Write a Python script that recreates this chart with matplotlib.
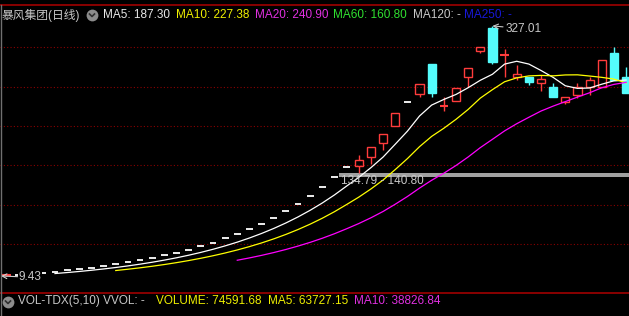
import matplotlib.pyplot as plt
import pandas as pd
from matplotlib.patches import Rectangle
from matplotlib.lines import Line2D

# daily candles (price)
opens = [9.43, 11.31, 12.44, 13.68, 15.05, 16.56, 18.21, 20.03, 22.04, 24.24,
         26.66, 29.33, 32.26, 35.49, 39.04, 42.94, 47.24, 51.96, 57.16, 62.87,
         69.16, 76.08, 83.68, 92.05, 101.26, 111.38, 122.52, 134.79, 148.25, 148.5,
         160.9, 178.0, 200.0, 230.8, 240.6, 278.7, 224.5, 231.5, 262.2, 295.0,
         324.4, 288.8, 262.2, 262.2, 254.5, 249.5, 230.4, 239.3, 249.5, 249.5,
         292.6, 262.2]
highs = [10.28, 11.31, 12.44, 13.68, 15.05, 16.56, 18.21, 20.03, 22.04, 24.24,
         26.66, 29.33, 32.26, 35.49, 39.04, 42.94, 47.24, 51.96, 57.16, 62.87,
         69.16, 76.08, 83.68, 92.05, 101.26, 111.38, 122.52, 134.79, 148.25, 163.1,
         172.9, 189.8, 216.4, 230.8, 253.3, 278.7, 237.2, 248.0, 273.6, 300.5,
         327.01, 297.7, 277.4, 262.2, 264.7, 254.5, 236.8, 254.9, 262.2, 283.7,
         300.3, 274.9]
lows = [9.43, 11.31, 12.44, 13.68, 15.05, 16.56, 18.21, 20.03, 22.04, 24.24,
        26.66, 29.33, 32.26, 35.49, 39.04, 42.94, 47.24, 51.96, 57.16, 62.87,
        69.16, 76.08, 83.68, 92.05, 101.26, 111.38, 122.52, 134.79, 148.25, 140.80,
        151.3, 169.5, 200.0, 230.8, 236.8, 236.4, 219.5, 231.5, 249.5, 292.6,
        279.0, 262.2, 258.3, 252.0, 244.4, 236.8, 227.9, 235.0, 239.3, 249.5,
        258.3, 241.8]
closes = [10.28, 11.31, 12.44, 13.68, 15.05, 16.56, 18.21, 20.03, 22.04, 24.24,
          26.66, 29.33, 32.26, 35.49, 39.04, 42.94, 47.24, 51.96, 57.16, 62.87,
          69.16, 76.08, 83.68, 92.05, 101.26, 111.38, 122.52, 134.79, 148.25, 156.6,
          172.9, 189.8, 216.4, 230.8, 253.3, 242.3, 225.5, 248.0, 273.6, 300.5,
          280.6, 290.0, 266.0, 255.8, 259.6, 236.8, 236.8, 249.5, 258.3, 283.7,
          258.3, 241.8]

ma_periods = [5, 10, 20]
ma_colors = ['white', '#ffff00', '#ff00ff']
grid_levels = [50, 100, 150, 200, 250, 300]
gap_low, gap_high = 134.79, 140.80
low_price, high_price = 9.43, 327.01

W, H = 629, 316
fig = plt.figure(figsize=(W / 100, H / 100), dpi=100, facecolor='black')


def fx(x):
    return x / W


def fy(y):
    return 1 - y / H


font = ['Liberation Sans', 'Noto Sans CJK SC']

ax = fig.add_axes([0, fy(292), 1, fy(5) - fy(292)])
ax.set_facecolor('black')
ax.set_xlim(-0.527, 51.24)
ax.set_ylim(-10.9, 353.6)
ax.axis('off')

for g in grid_levels:
    ax.axhline(g, color='#8a0000', ls=(0, (1, 2)), lw=0.8, zorder=0)

# gap band
ax.fill_between([27.34, 52], gap_low, gap_high, color='#a0a0a0', lw=0, zorder=1)
ax.text(27.5, (gap_low + gap_high) / 2 - 8, f'{gap_low:.2f} - {gap_high:.2f}',
        color='#c8c8c8', fontsize=8.5, family=font, va='center', ha='left', zorder=5)

red = '#ff3c3c'
cyan = '#54fcfc'
bw = 0.34
for i, (o, h, l, c) in enumerate(zip(opens, highs, lows, closes)):
    if o == c == h == l:
        ax.hlines(c, i - 0.28, i + 0.28, color='white', lw=1.3, zorder=3)
    elif c >= o:
        if c - o < 1.5:
            ax.hlines(c, i - bw, i + bw, color=red, lw=1.5, zorder=3)
            ax.vlines(i, l, h, color=red, lw=1, zorder=3)
        else:
            ax.add_patch(Rectangle((i - bw, o), 2 * bw, c - o, fill=False,
                                   ec=red, lw=1, zorder=3))
            if h > c:
                ax.vlines(i, c, h, color=red, lw=1, zorder=3)
            if l < o:
                ax.vlines(i, l, o, color=red, lw=1, zorder=3)
    else:
        ax.vlines(i, l, h, color=cyan, lw=1, zorder=3)
        ax.add_patch(Rectangle((i - bw, c), 2 * bw, o - c, fc=cyan,
                               ec=cyan, lw=1, zorder=3))

s = pd.Series(closes)
for p, col in zip(ma_periods, ma_colors):
    ax.plot(range(len(closes)), s.rolling(p).mean(), color=col, lw=0.9, zorder=4)

# high / low markers
ax.annotate(f'{high_price:.2f}', xy=(40, high_price), xytext=(41.1, high_price - 3.5),
            color='#c8c8c8', fontsize=8.5, family=font, va='center',
            arrowprops=dict(arrowstyle='->', color='#c8c8c8', lw=0.8,
                            shrinkA=0, shrinkB=0), zorder=6)
ax.annotate(f'{low_price:.2f}', xy=(-0.45, low_price), xytext=(1.0, low_price - 1.5),
            color='#c8c8c8', fontsize=8.5, family=font, va='center',
            bbox=dict(fc='black', ec='none', pad=0.5),
            arrowprops=dict(arrowstyle='->', color='#d0d0d0', lw=0.8,
                            shrinkA=0, shrinkB=0), zorder=6)

# frame lines
fig.add_artist(Line2D([0, 1], [fy(5), fy(5)], color='#a00000', lw=1.2))
fig.add_artist(Line2D([0, 1], [fy(292.5), fy(292.5)], color='#a00000', lw=1.2))
fig.add_artist(Line2D([fx(1), fx(1)], [fy(5), fy(316)], color='#707070', lw=1))

# top legend
top = [('暴风集团(日线)', 2, '#c8c8c8'),
       ('MA5: 187.30', 103, '#e8e8e8'),
       ('MA10: 227.38', 176, '#f0f000'),
       ('MA20: 240.90', 255, '#e030e0'),
       ('MA60: 160.80', 333, '#30e030'),
       ('MA120: -', 413, '#c8c8c8'),
       ('MA250: -', 464, '#1818d8')]
for txt, x, col in top:
    fig.text(fx(x), fy(15), txt, color=col, fontsize=8.5, family=font, va='center')

bottom = [('VOL-TDX(5,10) VVOL: -', 18, '#c8c8c8'),
          ('VOLUME: 74591.68', 156, '#f0f000'),
          ('MA5: 63727.15', 268, '#f0f000'),
          ('MA10: 38826.84', 354, '#e030e0')]
for txt, x, col in bottom:
    fig.text(fx(x), fy(301), txt, color=col, fontsize=8.5, family=font, va='center')

for cx, cy in [(92, 15), (8, 302)]:
    fig.add_artist(Line2D([fx(cx)], [fy(cy)], marker='o', markersize=8.5,
                          color='#8c8c8c', mew=0))
    fig.add_artist(Line2D([fx(cx - 2.5), fx(cx), fx(cx + 2.5)],
                          [fy(cy - 1), fy(cy + 1.5), fy(cy - 1)],
                          color='#303030', lw=1.2))

fig.savefig('out.png', dpi=100, facecolor='black')
